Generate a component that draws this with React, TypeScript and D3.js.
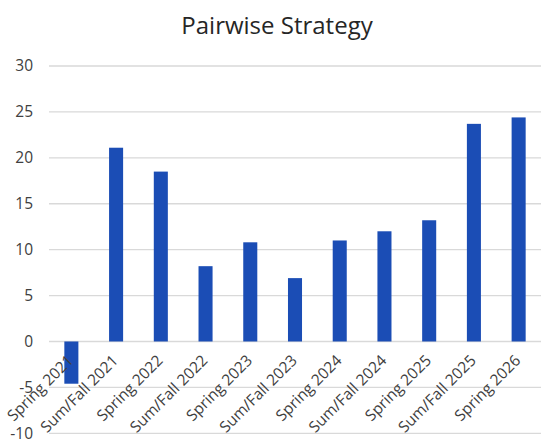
import React from 'react';
import * as d3 from 'd3';

const categories = [
  'Spring 2021', 'Sum/Fall 2021', 'Spring 2022', 'Sum/Fall 2022', 'Spring 2023', 'Sum/Fall 2023',
  'Spring 2024', 'Sum/Fall 2024', 'Spring 2025', 'Sum/Fall 2025', 'Spring 2026',
];
const values = [-4.6, 21.1, 18.5, 8.2, 10.8, 6.9, 11.0, 12.0, 13.2, 23.7, 24.4];
const yTicks = [-10, -5, 0, 5, 10, 15, 20, 25, 30];

const W = 555;
const H = 444;
const FONT = '"Open Sans", "Liberation Sans", sans-serif';

export default function App() {
  const x = d3.scaleBand<string>()
    .domain(categories)
    .range([49, 541])
    .paddingInner(0.686)
    .paddingOuter(0.343);

  const y = d3.scaleLinear().domain([-10, 30]).range([433.3, 66]);

  return (
    <svg width={W} height={H} style={{ position: 'absolute', left: 0, top: 0, background: '#fff' }}>
      <rect width={W} height={H} fill="#fff" />
      <text x={277} y={34} textAnchor="middle" fontFamily={FONT} fontSize={24} fill="#262626">
        Pairwise Strategy
      </text>

      {/* gridlines + y labels */}
      {yTicks.map(t => (
        <g key={t}>
          <line x1={49} x2={541} y1={y(t)} y2={y(t)} stroke="#d9d9d9" strokeWidth={1.3} />
          <text x={33} y={y(t)} dy="0.35em" textAnchor="end" fontFamily={FONT} fontSize={15.5} fill="#404040">
            {t}
          </text>
        </g>
      ))}

      {/* bars */}
      {categories.map((c, i) => {
        const v = values[i];
        return (
          <rect
            key={c}
            x={x(c)}
            width={x.bandwidth()}
            y={y(Math.max(0, v))}
            height={Math.abs(y(v) - y(0))}
            fill="#1b4db5"
          />
        );
      })}

      {/* x labels */}
      {categories.map(c => {
        const cx = (x(c) ?? 0) + x.bandwidth() / 2 + 3;
        const cy = y(0) + 20;
        return (
          <text
            key={c}
            transform={`translate(${cx},${cy}) rotate(-45)`}
            textAnchor="end"
            fontFamily={FONT}
            fontSize={15.5}
            fill="#404040"
          >
            {c}
          </text>
        );
      })}
    </svg>
  );
}
